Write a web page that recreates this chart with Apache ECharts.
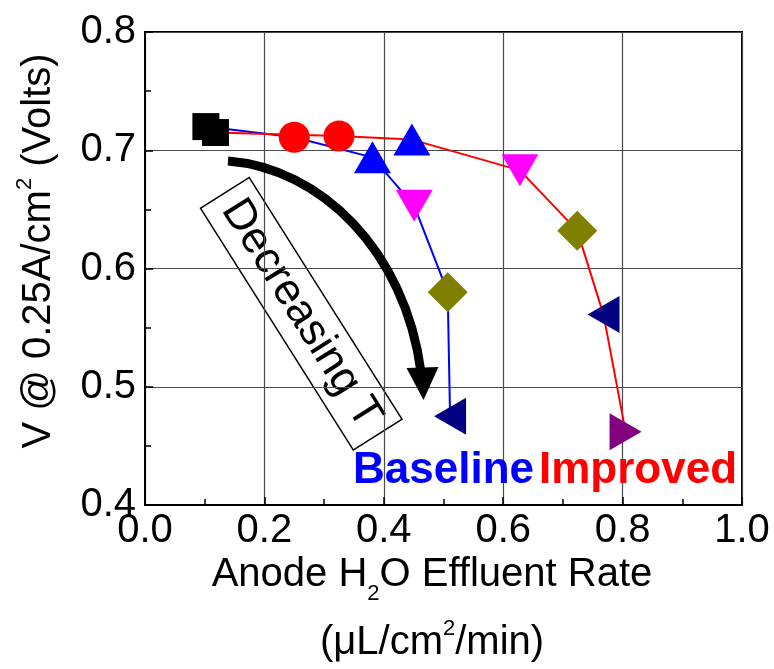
<!DOCTYPE html>
<html>
<head>
<meta charset="utf-8">
<script src="https://cdn.jsdelivr.net/npm/echarts@6/dist/echarts.min.js"></script>
<style>
  html, body { margin: 0; padding: 0; background: #ffffff; }
  #chart { width: 774px; height: 669px; }
</style>
</head>
<body>
<div id="chart"></div>
<script>
// Anode water effluent rate (µL/cm²/min) vs. cell voltage at 0.25 A/cm²,
// one point per cell temperature, for the two MEA designs.
const baselineRate = [0.102, 0.250, 0.381, 0.451, 0.507, 0.511];
const baselineVolt = [0.720, 0.711, 0.694, 0.653, 0.580, 0.475];
const improvedRate = [0.118, 0.325, 0.447, 0.628, 0.724, 0.768, 0.805];
const improvedVolt = [0.715, 0.712, 0.709, 0.683, 0.632, 0.561, 0.462];

const xTicks = [0.0, 0.2, 0.4, 0.6, 0.8, 1.0];
const yTicks = [0.4, 0.5, 0.6, 0.7, 0.8];

const seriesNames = ['Baseline', 'Improved'];
const seriesColors = ['#0000ff', '#ff0000'];

// Marker style for each temperature step (same order as the data arrays)
const markerStyles = [
  { symbol: 'rect',     size: 27,       rotate: 0,   color: '#000000' },
  { symbol: 'circle',   size: 31,       rotate: 0,   color: '#ff0000' },
  { symbol: 'triangle', size: [37, 32], rotate: 0,   color: '#0000ff' },
  { symbol: 'triangle', size: [37, 32], rotate: 180, color: '#ff00ff' },
  { symbol: 'diamond',  size: 40,       rotate: 0,   color: '#808000' },
  { symbol: 'triangle', size: [37, 32], rotate: 90,  color: '#000080' },
  { symbol: 'triangle', size: [37, 32], rotate: -90, color: '#800080' }
];

const FONT = '"Liberation Sans", Arial, Helvetica, sans-serif';

function pairs(xs, ys) {
  return xs.map((x, i) => [x, ys[i]]);
}
function markerData(xs, ys) {
  return xs.map((x, i) => {
    const m = markerStyles[i];
    return {
      value: [x, ys[i]],
      symbol: m.symbol,
      symbolSize: m.size,
      symbolRotate: m.rotate,
      itemStyle: { color: m.color, opacity: 1 }
    };
  });
}

const step = (arr) => +(arr[1] - arr[0]).toFixed(6);

const chart = echarts.init(document.getElementById('chart'), null, { renderer: 'canvas' });

const gridLine = { show: true, lineStyle: { color: '#4a4a4a', width: 1.2 } };

const option = {
  backgroundColor: '#ffffff',
  animation: false,
  grid: {
    left: 145, right: 32, top: 32, bottom: 164,
    show: true, borderColor: '#000000', borderWidth: 2, backgroundColor: 'transparent'
  },
  xAxis: {
    type: 'value',
    min: xTicks[0], max: xTicks[xTicks.length - 1], interval: step(xTicks),
    axisLine: { show: true, onZero: false, lineStyle: { color: '#000', width: 2 } },
    axisTick: { show: true, inside: true, length: 8, lineStyle: { color: '#000', width: 1.5 } },
    minorTick: { show: true, splitNumber: 2, length: 6, lineStyle: { color: '#000', width: 1.5 } },
    splitLine: gridLine,
    axisLabel: {
      color: '#000', fontFamily: FONT, fontSize: 40, margin: 6,
      formatter: (v) => v.toFixed(1)
    }
  },
  yAxis: {
    type: 'value',
    min: yTicks[0], max: yTicks[yTicks.length - 1], interval: step(yTicks),
    axisLine: { show: true, onZero: false, lineStyle: { color: '#000', width: 2 } },
    axisTick: { show: true, inside: true, length: 8, lineStyle: { color: '#000', width: 1.5 } },
    minorTick: { show: true, splitNumber: 2, length: 6, lineStyle: { color: '#000', width: 1.5 } },
    splitLine: gridLine,
    axisLabel: {
      color: '#000', fontFamily: FONT, fontSize: 40, margin: 9,
      padding: [0, 0, 8, 0],
      formatter: (v) => v.toFixed(1)
    }
  },
  series: [
    {
      name: seriesNames[0], type: 'line', z: 2, symbol: 'none', silent: true,
      data: pairs(baselineRate, baselineVolt),
      lineStyle: { color: seriesColors[0], width: 2 }
    },
    {
      name: seriesNames[1], type: 'line', z: 2, symbol: 'none', silent: true,
      data: pairs(improvedRate, improvedVolt),
      lineStyle: { color: seriesColors[1], width: 2 }
    },
    {
      name: seriesNames[0] + ' markers', type: 'scatter', z: 3, silent: true,
      itemStyle: { opacity: 1 },
      data: markerData(baselineRate, baselineVolt)
    },
    {
      name: seriesNames[1] + ' markers', type: 'scatter', z: 3, silent: true,
      itemStyle: { opacity: 1 },
      data: markerData(improvedRate, improvedVolt)
    }
  ],
  graphic: [
    // y-axis title
    {
      type: 'text', x: 11, y: 251, rotation: Math.PI / 2, z: 10, silent: true,
      style: {
        text: '{m|V @ 0.25A/cm}{s|2}{m| (Volts)}',
        align: 'center', verticalAlign: 'top',
        rich: {
          m: { font: '40px ' + FONT, fill: '#000', padding: [8, 0, 0, 0], verticalAlign: 'top', lineHeight: 50 },
          s: { font: '22px ' + FONT, fill: '#000', padding: [3, 0, 0, 0], verticalAlign: 'top', lineHeight: 1 }
        }
      }
    },
    // x-axis title, first line
    {
      type: 'text', x: 432, y: 555, z: 10, silent: true,
      style: {
        text: '{m|Anode H}{s|2}{m|O Effluent Rate}',
        align: 'center', verticalAlign: 'top',
        rich: {
          m: { font: '40px ' + FONT, fill: '#000', verticalAlign: 'top', lineHeight: 44 },
          s: { font: '22px ' + FONT, fill: '#000', padding: [28, 0, 0, 0], verticalAlign: 'top', lineHeight: 1 }
        }
      }
    },
    // x-axis title, unit line
    {
      type: 'text', x: 432, y: 615, z: 10, silent: true,
      style: {
        text: '{m|(\u03bcL/cm}{s|2}{m|/min)}',
        align: 'center', verticalAlign: 'top',
        rich: {
          m: { font: '40px ' + FONT, fill: '#000', padding: [8, 0, 0, 0], verticalAlign: 'top', lineHeight: 50 },
          s: { font: '22px ' + FONT, fill: '#000', padding: [3, 0, 0, 0], verticalAlign: 'top', lineHeight: 1 }
        }
      }
    },
    // series labels
    {
      type: 'text', x: 353, y: 470.5, z: 10, silent: true,
      style: { text: seriesNames[0], font: 'bold 44px ' + FONT, fill: seriesColors[0], align: 'left', verticalAlign: 'middle' }
    },
    {
      type: 'text', x: 539, y: 470.5, z: 10, silent: true,
      style: { text: seriesNames[1], font: 'bold 44px ' + FONT, fill: seriesColors[1], align: 'left', verticalAlign: 'middle' }
    },
    // boxed "Decreasing T" annotation
    {
      type: 'group', x: 301.25, y: 313.75, rotation: -57.7 * Math.PI / 180, z: 10, silent: true,
      children: [
        {
          type: 'rect', shape: { x: -143, y: -28.8, width: 286, height: 57.6 },
          style: { fill: '#ffffff', stroke: '#000000', lineWidth: 1.5 }
        },
        {
          type: 'text',
          style: { text: 'Decreasing T', x: 0, y: 0, align: 'center', verticalAlign: 'middle', font: '44px ' + FONT, fill: '#000' }
        }
      ]
    },
    // curved arrow showing the direction of decreasing temperature
    {
      type: 'bezierCurve', z: 10, silent: true,
      shape: { x1: 228, y1: 161, cpx1: 320, cpy1: 168, cpx2: 405, cpy2: 250, x2: 421, y2: 372 },
      style: { stroke: '#000000', lineWidth: 9, fill: null, lineCap: 'butt' }
    },
    {
      type: 'polygon', z: 10, silent: true,
      shape: { points: [[406.5, 368], [438.5, 367], [423.5, 400]] },
      style: { fill: '#000000' }
    }
  ]
};

chart.setOption(option);
</script>
</body>
</html>
